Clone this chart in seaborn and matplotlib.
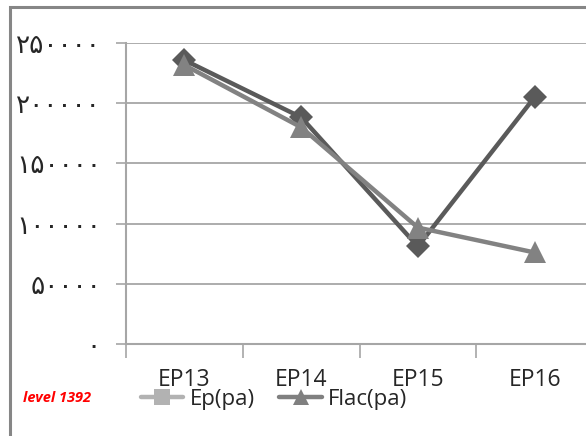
import matplotlib
matplotlib.use("Agg")
import matplotlib.pyplot as plt
from matplotlib.lines import Line2D
from matplotlib.patches import Rectangle
import seaborn as sns
import pandas as pd

episodes = ["EP13", "EP14", "EP15", "EP16"]
ep_pa = [235800, 188300, 81000, 205000]     # dark line, diamonds
flac_pa = [231700, 180000, 96700, 76000]    # grey line, triangles
y_ticks = [0, 50000, 100000, 150000, 200000, 250000]
y_labels = ["۰", "۵۰۰۰۰", "۱۰۰۰۰۰", "۱۵۰۰۰۰", "۲۰۰۰۰۰", "۲۵۰۰۰۰"]
legend_names = ["Ep(pa)", "Flac(pa)"]
note = "level 1392"

sns.set_style("white")
plt.rcParams["font.family"] = ["Open Sans", "DejaVu Sans"]

df = pd.DataFrame({
    "Episode": episodes * 2,
    "Value": ep_pa + flac_pa,
    "Series": ["Ep"] * 4 + ["Flac"] * 4,
})

fig = plt.figure(figsize=(5.86, 4.36), dpi=100)
ax = fig.add_axes([126 / 586, 1 - 344 / 436, 1 - 126 / 586, (344 - 43) / 436])

sns.lineplot(data=df, x="Episode", y="Value", hue="Series", style="Series",
             palette={"Ep": "#5a5a5a", "Flac": "#828282"},
             markers={"Ep": "D", "Flac": "^"}, dashes=False,
             markersize=12, linewidth=3.2, markeredgewidth=0,
             sort=False, legend=False, ax=ax)
ax.lines[1].set_zorder(3)
ax.lines[1].set_markersize(16)

ax.set_xlim(-0.5, 3.44)
ax.set_ylim(0, 250000)
ax.set_xlabel("")
ax.set_ylabel("")

ax.set_yticks(y_ticks)
ax.set_yticklabels(y_labels, family=["DejaVu Sans"], fontsize=19)
ax.yaxis.grid(True, color="#a6a6a6", linewidth=1.3)
ax.tick_params(axis="y", direction="out", length=7, width=1.2, color="#a6a6a6", pad=11, left=True)

ax.set_xticks([-0.5, 0.5, 1.5, 2.5])
ax.set_xticklabels([])
ax.set_xticks([0, 1, 2, 3], minor=True)
ax.set_xticklabels(episodes, minor=True, fontsize=16.5)
ax.tick_params(axis="x", which="major", direction="out", length=10, width=1.2, color="#a6a6a6", bottom=True)
ax.tick_params(axis="x", which="minor", length=0, pad=17)

for s in ["top", "right"]:
    ax.spines[s].set_visible(False)
for s in ["left", "bottom"]:
    ax.spines[s].set_color("#a6a6a6")
    ax.spines[s].set_linewidth(1.5)
ax.spines["bottom"].set_clip_on(False)

handles = [
    Line2D([], [], color="#b2b2b2", linewidth=3.2, marker="s", markersize=11, markeredgewidth=0),
    Line2D([], [], color="#808080", linewidth=3.2, marker="^", markersize=12, markeredgewidth=0),
]
fig.legend(handles, legend_names, loc="center", bbox_to_anchor=(0.468, 1 - 399 / 436),
           ncol=2, frameon=False, fontsize=16, handlelength=1.9, handletextpad=0.3,
           columnspacing=1.1, borderpad=0)

fig.text(57 / 586, 1 - 398 / 436, note, color="#ff0000", fontsize=10.5,
         style="italic", weight="bold", ha="center", va="center")

fig.patches.append(Rectangle((10 / 586, -0.2), 1.2, 1.2 - 7 / 436,
                             transform=fig.transFigure, fill=False,
                             edgecolor="#868686", linewidth=2.2))

fig.savefig("out.png", dpi=100)
